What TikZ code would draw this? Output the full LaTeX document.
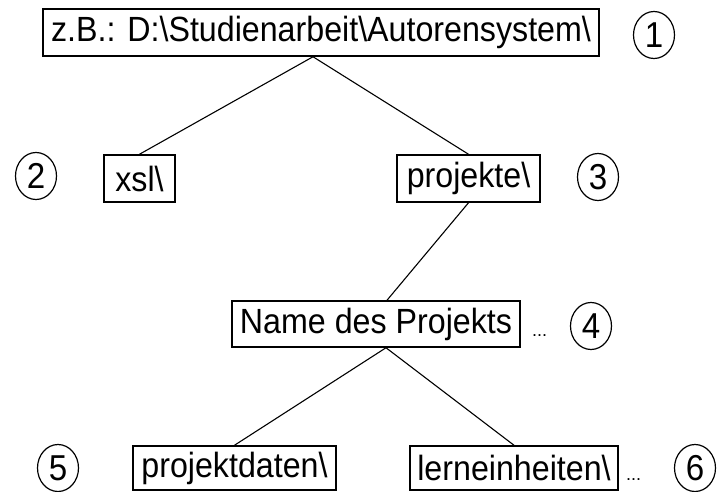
\documentclass[tikz,border=0pt]{standalone}
\usepackage{fontspec}
\setmainfont{Liberation Sans}
\usetikzlibrary{shapes.geometric}
\newcommand{\bs}{\textbackslash}
\newcommand{\narrow}[1]{\scalebox{0.92}[1]{#1}}
\begin{document}
\begin{tikzpicture}[x=1pt,y=-1pt,
  dirbox/.style={draw, line width=1.5pt, rectangle, inner sep=0pt,
    font=\fontsize{35}{40}\selectfont},
  numring/.style={draw, ellipse, line width=1.2pt, minimum width=41pt,
    minimum height=47pt, inner sep=0pt, font=\fontsize{36}{40}\selectfont},
  more/.style={inner sep=0pt, anchor=base west, font=\fontsize{18}{20}\selectfont},
  link/.style={line width=1.1pt}]
\useasboundingbox (0,0) rectangle (718,492);

% directory boxes
\node[dirbox, minimum width=556pt, minimum height=47pt] (root) at (321,32.5)
  {\narrow{z.B.: D:\bs Studienarbeit\bs Autorensystem\bs}};
\node[dirbox, minimum width=71pt, minimum height=47pt] (xsl) at (139.5,178.5) {\narrow{xsl\bs}};
\node[dirbox, minimum width=143pt, minimum height=47pt] (proj) at (468.5,178.5) {\narrow{projekte\bs}};
\node[dirbox, minimum width=288pt, minimum height=46pt] (name) at (376,324) {\narrow{Name des Projekts}};
\node[dirbox, minimum width=203pt, minimum height=44pt] (data) at (234.5,468) {\narrow{projektdaten\bs}};
\node[dirbox, minimum width=208pt, minimum height=44pt] (units) at (514,468) {\narrow{lerneinheiten\bs}};

% continuation marks
\node[more] (namemore) at (532,336) {...};
\node[more] (unitsmore) at (626,480) {...};

% numbered markers
\node[numring] (n1) at (654,35) {\narrow{1}};
\node[numring] (n2) at (36,176) {\narrow{2}};
\node[numring] (n3) at (598,177) {\narrow{3}};
\node[numring] (n4) at (591,326) {\narrow{4}};
\node[numring] (n5) at (58,468) {\narrow{5}};
\node[numring] (n6) at (695,468) {\narrow{6}};

% tree connectors
\draw[link] ([xshift=-8pt]root.south) -- (xsl.north);
\draw[link] ([xshift=-8pt]root.south) -- (proj.north);
\draw[link] (proj.south) -- ([xshift=11pt]name.north);
\draw[link] ([xshift=10pt]name.south) -- (data.north);
\draw[link] ([xshift=10pt]name.south) -- (units.north);
\end{tikzpicture}
\end{document}
